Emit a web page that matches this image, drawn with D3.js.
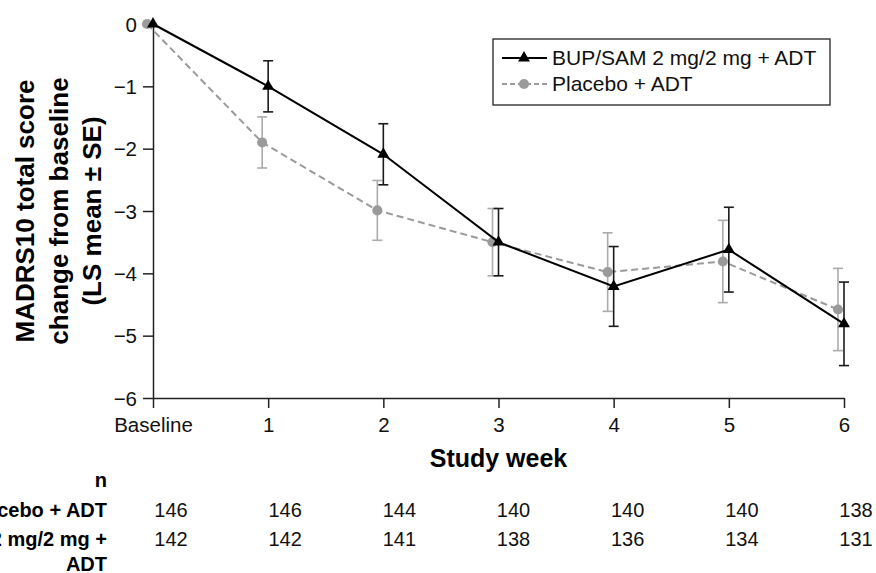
<!DOCTYPE html>
<html>
<head>
<meta charset="utf-8">
<script src="https://cdn.jsdelivr.net/npm/d3@7"></script>
<style>
  body { margin: 0; background: #fff; }
  svg { font-family: "Liberation Sans", Arial, sans-serif; }
</style>
</head>
<body>
<div id="chart"></div>
<script>
// Categories and series
var weeks = ["Baseline", "1", "2", "3", "4", "5", "6"];
var yTicks = [0, -1, -2, -3, -4, -5, -6];

var bupMean = [0, -1.0, -2.09, -3.5, -4.21, -3.62, -4.81];
var bupSE = [0, 0.41, 0.49, 0.54, 0.64, 0.68, 0.67];
var placeboMean = [0, -1.9, -2.99, -3.5, -3.98, -3.81, -4.58];
var placeboSE = [0, 0.41, 0.48, 0.54, 0.63, 0.66, 0.66];

var nPlacebo = [146, 146, 144, 140, 140, 140, 138];
var nBup = [142, 142, 141, 138, 136, 134, 131];

var seriesNames = ["BUP/SAM 2 mg/2 mg + ADT", "Placebo + ADT"];

var width = 876, height = 573;
var margin = { top: 24, right: 32, bottom: 175, left: 153 };
var plotW = width - margin.left - margin.right;
var plotH = height - margin.top - margin.bottom;

var svg = d3.select("#chart").append("svg")
    .attr("width", width)
    .attr("height", height);

var g = svg.append("g")
    .attr("transform", "translate(" + margin.left + "," + margin.top + ")");

var x = d3.scalePoint().domain(weeks).range([0, plotW]);
var y = d3.scaleLinear().domain([-6, 0]).range([plotH, 0]);

// axes
var xAxis = g.append("g")
    .attr("transform", "translate(0," + plotH + ")")
    .call(d3.axisBottom(x).tickSize(10).tickPadding(6).tickSizeOuter(0));
var yAxis = g.append("g")
    .call(d3.axisLeft(y).tickValues(yTicks).tickSize(10).tickPadding(6).tickSizeOuter(0)
        .tickFormat(function (d) { return d === 0 ? "0" : "\u2212" + Math.abs(d); }));

[xAxis, yAxis].forEach(function (ax) {
    ax.selectAll("path, line").attr("stroke", "#222").attr("stroke-width", 1.5);
    ax.selectAll("text").attr("fill", "#111").style("font-size", "20.5px");
});
xAxis.selectAll("text").attr("dy", "0.9em");
yAxis.selectAll("text").attr("dy", "0.35em");

// axis titles
svg.append("text")
    .attr("x", margin.left + x("3"))
    .attr("y", 467)
    .attr("text-anchor", "middle")
    .style("font-size", "25px")
    .style("font-weight", "bold")
    .text("Study week");

var yTitle = ["MADRS10 total score", "change from baseline", "(LS mean \u00b1 SE)"];
var yMid = margin.top + plotH / 2;
yTitle.forEach(function (t, i) {
    svg.append("text")
        .attr("transform", "translate(" + (34 + i * 33.5) + "," + yMid + ") rotate(-90)")
        .attr("text-anchor", "middle")
        .style("font-size", "26px")
        .style("font-weight", "bold")
        .text(t);
});

var placeboOffset = -6;
var bupColor = "#000", bupErr = "#1a1a1a";
var placeboColor = "#9a9a9a", placeboErr = "#ababab";

function drawSeries(mean, se, dx, lineColor, errColor, dash, marker) {
    var pts = weeks.map(function (w, i) { return { w: w, m: mean[i], se: se[i] }; });
    var line = d3.line()
        .x(function (d) { return x(d.w) + dx; })
        .y(function (d) { return y(d.m); });

    // error bars
    var eb = g.append("g");
    pts.filter(function (d) { return d.se > 0; }).forEach(function (d) {
        var cx = x(d.w) + dx;
        eb.append("line").attr("x1", cx).attr("x2", cx)
            .attr("y1", y(d.m + d.se)).attr("y2", y(d.m - d.se))
            .attr("stroke", errColor).attr("stroke-width", 1.6);
        [d.m + d.se, d.m - d.se].forEach(function (v) {
            eb.append("line").attr("x1", cx - 5).attr("x2", cx + 5)
                .attr("y1", y(v)).attr("y2", y(v))
                .attr("stroke", errColor).attr("stroke-width", 1.6);
        });
    });

    g.append("path")
        .datum(pts)
        .attr("d", line)
        .attr("fill", "none")
        .attr("stroke", lineColor)
        .attr("stroke-width", 2)
        .attr("stroke-dasharray", dash);

    g.selectAll(null)
        .data(pts)
        .enter()
        .append("path")
        .attr("transform", function (d) { return "translate(" + (x(d.w) + dx) + "," + y(d.m) + ")"; })
        .attr("d", marker)
        .attr("fill", lineColor);
}

var triangle = d3.symbol().type(d3.symbolTriangle).size(62)();
var circle = d3.symbol().type(d3.symbolCircle).size(80)();

drawSeries(placeboMean, placeboSE, placeboOffset, placeboColor, placeboErr, "7,4", circle);
drawSeries(bupMean, bupSE, 0, bupColor, bupErr, null, triangle);

// legend
var lg = svg.append("g").attr("transform", "translate(493,39)");
lg.append("rect")
    .attr("width", 337).attr("height", 66)
    .attr("fill", "#fff").attr("stroke", "#222").attr("stroke-width", 1.3);
var legendItems = [
    { name: seriesNames[0], color: bupColor, dash: null, marker: triangle },
    { name: seriesNames[1], color: placeboColor, dash: "5,3", marker: circle }
];
legendItems.forEach(function (it, i) {
    var ly = 19 + i * 26;
    lg.append("line").attr("x1", 9).attr("x2", 54).attr("y1", ly).attr("y2", ly)
        .attr("stroke", it.color).attr("stroke-width", 2)
        .attr("stroke-dasharray", it.dash);
    lg.append("path").attr("transform", "translate(31," + ly + ")")
        .attr("d", it.marker).attr("fill", it.color);
    lg.append("text").attr("x", 59).attr("y", ly).attr("dy", "0.35em")
        .style("font-size", "21px").attr("fill", "#111").text(it.name);
});

// n table
var nx = d3.scalePoint().domain(weeks).range([171, 856]);
var labelX = 107;
svg.append("text").attr("x", labelX).attr("y", 487).attr("text-anchor", "end")
    .style("font-size", "20px").style("font-weight", "bold").text("n");
svg.append("text").attr("x", labelX).attr("y", 517).attr("text-anchor", "end")
    .style("font-size", "20px").style("font-weight", "bold").text("Placebo + ADT");
svg.append("text").attr("x", labelX).attr("y", 546).attr("text-anchor", "end")
    .style("font-size", "20px").style("font-weight", "bold").text("BUP/SAM 2 mg/2 mg +");
svg.append("text").attr("x", labelX).attr("y", 571).attr("text-anchor", "end")
    .style("font-size", "20px").style("font-weight", "bold").text("ADT");

[nPlacebo, nBup].forEach(function (arr, r) {
    svg.selectAll(null)
        .data(arr)
        .enter()
        .append("text")
        .attr("x", function (d, i) { return nx(weeks[i]); })
        .attr("y", 517 + r * 29)
        .attr("text-anchor", "middle")
        .style("font-size", "20px")
        .attr("fill", "#111")
        .text(function (d) { return d; });
});
</script>
</body>
</html>
